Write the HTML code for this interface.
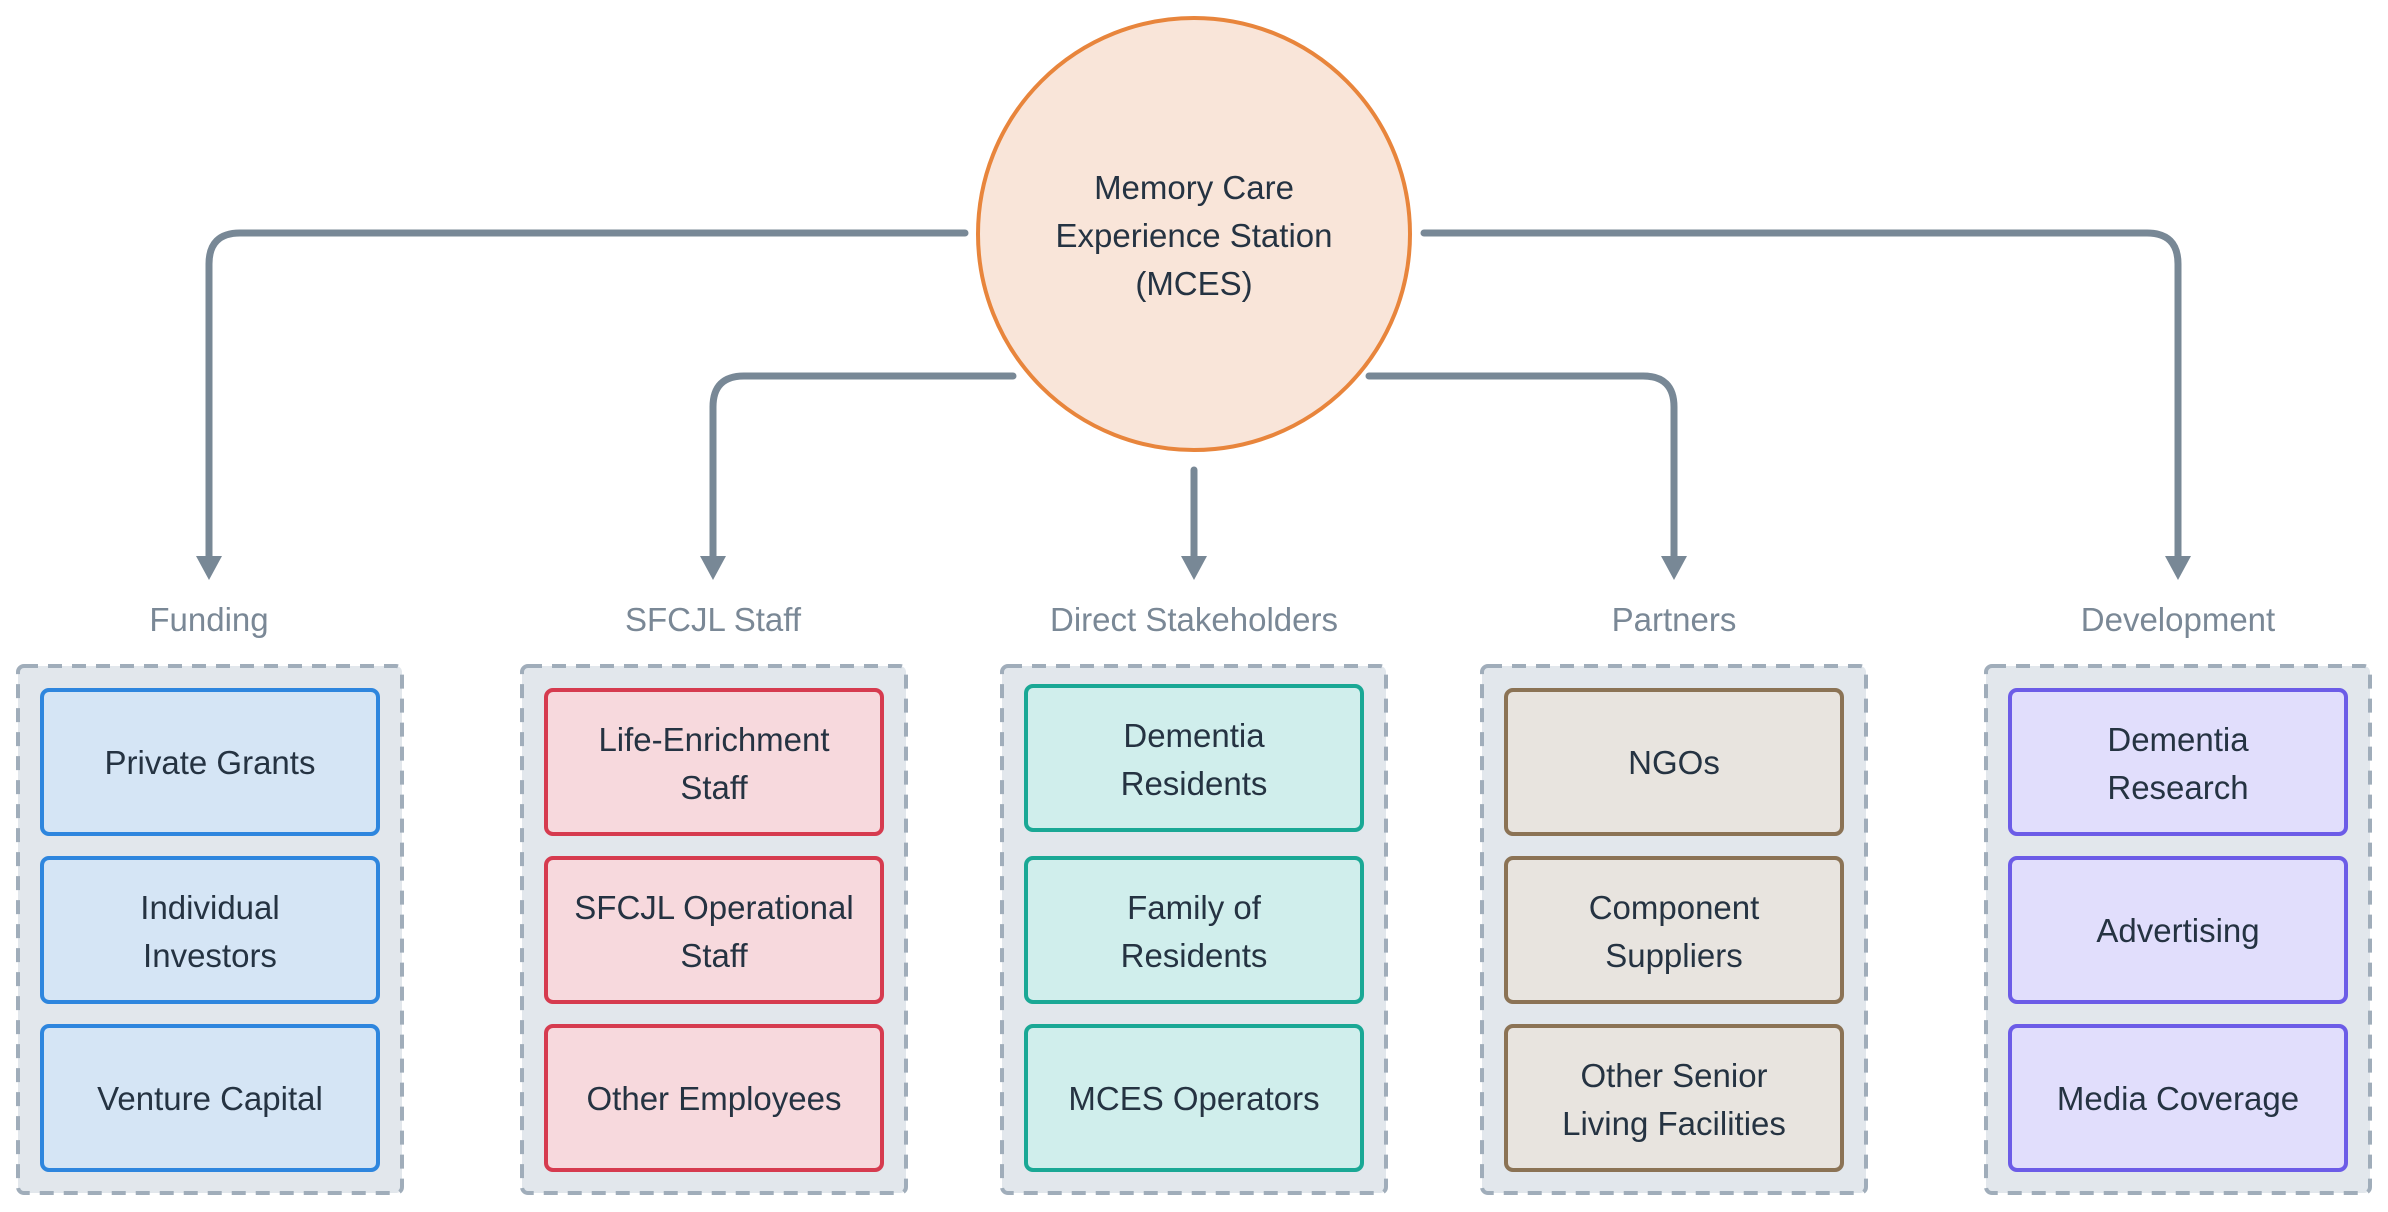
<!DOCTYPE html>
<html><head><meta charset="utf-8"><style>
html,body{margin:0;padding:0;background:#fff;}
svg{display:block;}
text{font-family:"Liberation Sans",sans-serif;}
</style></head><body>
<svg width="2388" height="1212" viewBox="0 0 2388 1212" xmlns="http://www.w3.org/2000/svg">
<defs>
<marker id="ah" markerWidth="10" markerHeight="10" refX="5" refY="5" orient="auto" markerUnits="userSpaceOnUse" viewBox="0 0 10 10"></marker>
</defs>
<g fill="none" stroke="#788896" stroke-width="7" stroke-linecap="round">
<path d="M965 233 H240 Q209 233 209 264 V560"/>
<path d="M1013 376 H744 Q713 376 713 407 V560"/>
<path d="M1194 470 V560"/>
<path d="M1369 376 H1643 Q1674 376 1674 407 V560"/>
<path d="M1424 233 H2147 Q2178 233 2178 264 V560"/>
</g>
<g fill="#788896">
<polygon points="196,556 222,556 209,580"/>
<polygon points="700,556 726,556 713,580"/>
<polygon points="1181,556 1207,556 1194,580"/>
<polygon points="1661,556 1687,556 1674,580"/>
<polygon points="2165,556 2191,556 2178,580"/>
</g>
<circle cx="1194" cy="234" r="216" fill="#f9e5d9" stroke="#e8853c" stroke-width="4"/>
<g font-size="33" fill="#253342" text-anchor="middle">
<text x="1194" y="199">Memory Care</text>
<text x="1194" y="247">Experience Station</text>
<text x="1194" y="295">(MCES)</text>
</g>
<g font-size="33" fill="#7a8896" text-anchor="middle">
<text x="209" y="631">Funding</text>
<text x="713" y="631">SFCJL Staff</text>
<text x="1194" y="631">Direct Stakeholders</text>
<text x="1674" y="631">Partners</text>
<text x="2178" y="631">Development</text>
</g>
<g fill="#e2e7ec" stroke="#a0adba" stroke-width="4" stroke-dasharray="14 10">
<rect x="18" y="666" width="384" height="527" rx="6"/>
<rect x="522" y="666" width="384" height="527" rx="6"/>
<rect x="1002" y="666" width="384" height="527" rx="6"/>
<rect x="1482" y="666" width="384" height="527" rx="6"/>
<rect x="1986" y="666" width="384" height="527" rx="6"/>
</g>
<g stroke-width="4">
<g fill="#d5e5f5" stroke="#2e86de">
<rect x="42" y="690" width="336" height="144" rx="7"/>
<rect x="42" y="858" width="336" height="144" rx="7"/>
<rect x="42" y="1026" width="336" height="144" rx="7"/>
</g>
<g fill="#f7d9dd" stroke="#d63b4f">
<rect x="546" y="690" width="336" height="144" rx="7"/>
<rect x="546" y="858" width="336" height="144" rx="7"/>
<rect x="546" y="1026" width="336" height="144" rx="7"/>
</g>
<g fill="#d0eeec" stroke="#1aa895">
<rect x="1026" y="686" width="336" height="144" rx="7"/>
<rect x="1026" y="858" width="336" height="144" rx="7"/>
<rect x="1026" y="1026" width="336" height="144" rx="7"/>
</g>
<g fill="#e8e4df" stroke="#8b7355">
<rect x="1506" y="690" width="336" height="144" rx="7"/>
<rect x="1506" y="858" width="336" height="144" rx="7"/>
<rect x="1506" y="1026" width="336" height="144" rx="7"/>
</g>
<g fill="#e1defc" stroke="#6c5ce7">
<rect x="2010" y="690" width="336" height="144" rx="7"/>
<rect x="2010" y="858" width="336" height="144" rx="7"/>
<rect x="2010" y="1026" width="336" height="144" rx="7"/>
</g>
</g>
<g font-size="33" fill="#253342" text-anchor="middle">
<text x="210" y="774">Private Grants</text>
<text x="210" y="919">Individual</text>
<text x="210" y="967">Investors</text>
<text x="210" y="1110">Venture Capital</text>

<text x="714" y="751">Life-Enrichment</text>
<text x="714" y="799">Staff</text>
<text x="714" y="919">SFCJL Operational</text>
<text x="714" y="967">Staff</text>
<text x="714" y="1110">Other Employees</text>

<text x="1194" y="747">Dementia</text>
<text x="1194" y="795">Residents</text>
<text x="1194" y="919">Family of</text>
<text x="1194" y="967">Residents</text>
<text x="1194" y="1110">MCES Operators</text>

<text x="1674" y="774">NGOs</text>
<text x="1674" y="919">Component</text>
<text x="1674" y="967">Suppliers</text>
<text x="1674" y="1087">Other Senior</text>
<text x="1674" y="1135">Living Facilities</text>

<text x="2178" y="751">Dementia</text>
<text x="2178" y="799">Research</text>
<text x="2178" y="942">Advertising</text>
<text x="2178" y="1110">Media Coverage</text>
</g>
</svg>
</body></html>
